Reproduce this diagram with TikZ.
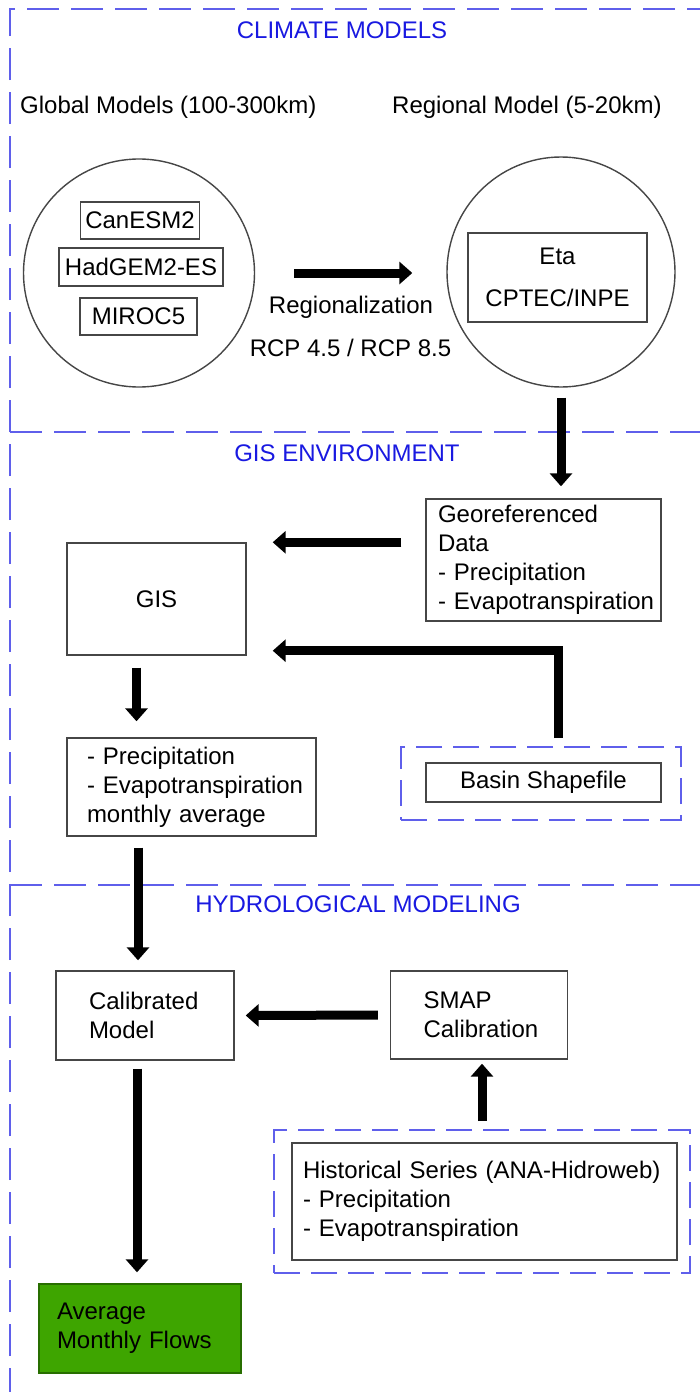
\documentclass[tikz,border=0pt]{standalone}
\usepackage{fontspec}
\setmainfont{Liberation Sans}
\usetikzlibrary{arrows.meta,shapes.geometric}
\definecolor{dashblue}{RGB}{95,95,235}
\definecolor{headblue}{RGB}{25,25,225}
\definecolor{boxgray}{RGB}{70,70,70}
\definecolor{flowgreen}{RGB}{62,165,0}
\definecolor{flowgreenedge}{RGB}{40,110,0}
\newcommand{\diagfont}{\fontsize{24}{29}\selectfont\hyphenpenalty=10000 \exhyphenpenalty=10000 }
\begin{document}
\begin{tikzpicture}[x=1pt,y=-1pt,
  every node/.style={font={\diagfont}},
  heading/.style={text=headblue},
  plain/.style={inner sep=0pt},
  box/.style={draw=boxgray, line width=1.4pt, rectangle, inner ysep=0pt},
  lbox/.style={box, align=left},
  mbox/.style={draw=boxgray, line width=1.4pt, rectangle, inner sep=0pt, align=center},
  globe/.style={draw=boxgray, line width=1.4pt, ellipse, inner sep=0pt},
  framedash/.style={draw=dashblue, line width=2pt, dash pattern=on 32pt off 12pt},
  groupdash/.style={draw=dashblue, line width=2pt, dash pattern=on 26pt off 11pt, rectangle, inner sep=0pt},
  bigarrow/.style={draw=black, line width=9pt, -{Triangle[length=13pt,width=22pt]}}
]
\useasboundingbox (0,0) rectangle (699,1392);
\fill[white] (0,0) rectangle (699,1392);

% section frame
\draw[framedash] (10,1400) -- (10,9) -- (712,9);
\draw[framedash] (10,432) -- (712,432);
\draw[framedash] (10,885) -- (712,885);

% headings and labels
\node[heading] (h1) at (342,30) {CLIMATE MODELS};
\node[heading] (h2) at (347,453) {GIS ENVIRONMENT};
\node[heading] (h3) at (358,904) {HYDROLOGICAL MODELING};
\node[plain, anchor=west] (glab) at (20,107) {Global Models (100-300km)};
\node[plain, anchor=west] (rlab) at (392,107) {Regional Model (5-20km)};
\node (regl) at (351,307) {Regionalization};
\node (rcp) at (350.5,348) {RCP 4.5 / RCP 8.5};

% climate models
\node[globe, minimum width=231pt, minimum height=228pt] (gcirc) at (139,273) {};
\node[mbox, minimum width=119pt, minimum height=37pt] (can) at (140,220.5) {CanESM2};
\node[mbox, minimum width=164pt, minimum height=38pt] (had) at (141,267) {HadGEM2-ES};
\node[mbox, minimum width=117pt, minimum height=37pt] (mir) at (138.5,316.5) {MIROC5};
\node[globe, minimum width=228pt, minimum height=230pt] (rcirc) at (561,272) {};
\node[mbox, minimum width=179pt, minimum height=89pt] (eta) at (557.5,277.5) {Eta\\[13pt]CPTEC/INPE};

% GIS environment
\node[lbox, inner xsep=12pt, text width=211pt, minimum height=122pt] (geo) at (543.5,560)
  {Georeferenced\\Data\\-~Precipitation\\-~Evapotranspiration};
\node[mbox, minimum width=179pt, minimum height=112pt] (gis) at (156.5,599) {GIS};
\node[lbox, inner xsep=20pt, text width=209pt, minimum height=98pt] (month) at (191.5,787)
  {-~Precipitation\\-~Evapotranspiration\\monthly~average};
\node[groupdash, minimum width=280pt, minimum height=73pt] (basinfrm) at (541,783.5) {};
\node[mbox, minimum width=235pt, minimum height=39pt] (basin) at (543.5,782.5) {Basin Shapefile};

% hydrological modeling
\node[lbox, inner xsep=33pt, text width=112pt, minimum height=89pt] (cal) at (145,1015.5)
  {Calibrated\\Model};
\node[lbox, inner xsep=33pt, text width=111pt, minimum height=88pt] (smap) at (479,1015)
  {SMAP\\Calibration};
\node[groupdash, minimum width=416pt, minimum height=143pt] (histfrm) at (482,1201.5) {};
\node[lbox, inner xsep=11pt, text width=363pt, minimum height=117pt] (hist) at (484.5,1201.5)
  {Historical~Series~(ANA-Hidroweb)\\-~Precipitation\\-~Evapotranspiration};
\node[lbox, draw=flowgreenedge, fill=flowgreen, inner xsep=18pt, text width=166pt, minimum height=89pt] (flows) at (140,1328.5)
  {Average\\Monthly~Flows};

% connectors
\draw[bigarrow, shorten <=39pt, shorten >=34pt] (gcirc.east) -- (rcirc.west |- gcirc.east);
\draw[bigarrow, shorten <=10pt, shorten >=12pt] (rcirc.south) -- (rcirc.south |- geo.north);
\draw[bigarrow, shorten <=24pt, shorten >=26pt] (geo.west |- gis.north) -- (gis.north east);
\draw[bigarrow, shorten <=8pt, shorten >=26pt] ([xshift=17pt]basinfrm.north) |- ([yshift=5pt]gis.south east);
\draw[bigarrow, shorten <=12pt, shorten >=16pt] ([xshift=-20pt]gis.south) -- ([xshift=-20pt]gis.south |- month.north);
\draw[bigarrow, shorten <=11pt, shorten >=10pt] ([xshift=-7pt]cal.north |- month.south) -- ([xshift=-7pt]cal.north);
\draw[bigarrow, shorten <=12pt, shorten >=11pt] (smap.west) -- (cal.east);
\draw[bigarrow, shorten <=8pt, shorten >=4pt] (histfrm.north) -- (histfrm.north |- smap.south);
\draw[bigarrow, shorten <=8pt, shorten >=11pt] ([xshift=-8pt]cal.south) -- ([xshift=-8pt]cal.south |- flows.north);
\end{tikzpicture}
\end{document}
